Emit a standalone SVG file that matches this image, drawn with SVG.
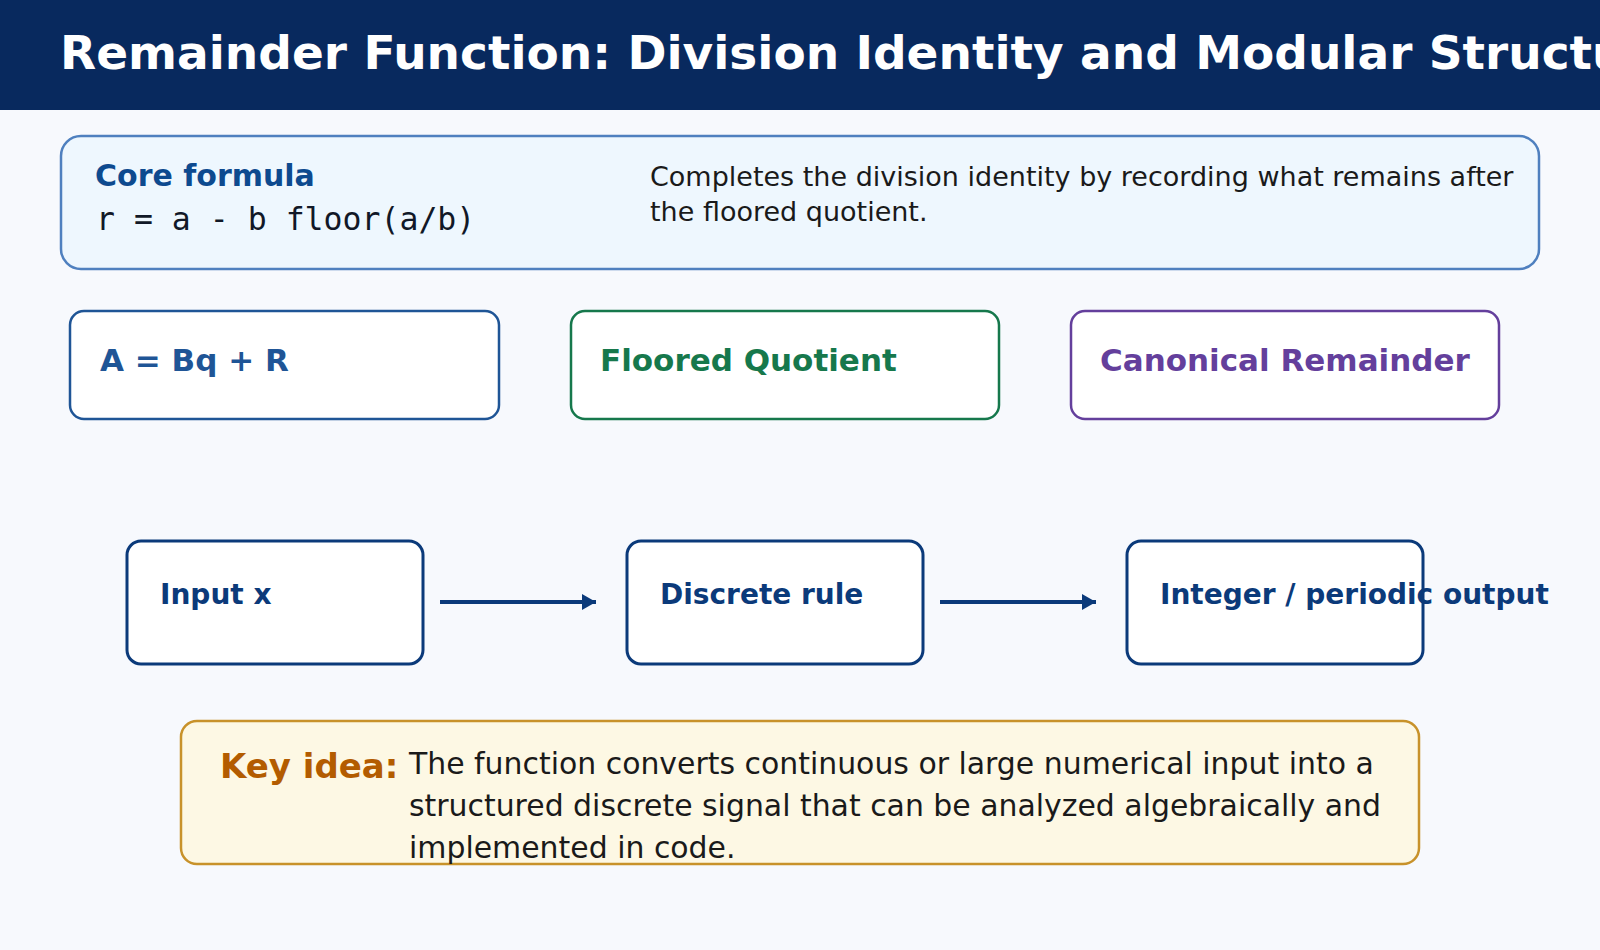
<svg xmlns="http://www.w3.org/2000/svg" width="1600" height="950" viewBox="0 0 1600 950">
<defs>
<style>
.t{font-family:"DejaVu Sans",sans-serif}
.b{font-weight:bold}
.flow{fill:#fff;stroke:#0b3a7a;stroke-width:3}
.fl{font-family:"DejaVu Sans",sans-serif;font-weight:bold;font-size:28px;fill:#0b3a7a}
</style>
<marker id="ah" markerWidth="16" markerHeight="16" refX="14" refY="8" orient="auto" markerUnits="userSpaceOnUse"><path d="M0,0 L14,8 L0,16 Z" fill="#0b3a7a"/></marker>
</defs>
<rect width="1600" height="950" fill="#f7f9fd"/>
<g id="header"><rect width="1600" height="110" fill="#08295e"/>
<text x="60" y="69" class="t b" font-size="47" fill="#fff">Remainder Function: Division Identity and Modular Structure</text></g>
<g id="core"><rect x="61" y="136" width="1478" height="133" rx="20" fill="#eef7fe" stroke="#4f80bf" stroke-width="2.5"/>
<text x="95" y="186" class="t b" font-size="30" fill="#0d4a8f">Core formula</text>
<text x="96" y="230" font-family="DejaVu Sans Mono,monospace" font-size="31.5" fill="#111827">r = a - b floor(a/b)</text>
<text x="650" y="186" class="t" font-size="27" fill="#1a1a1a">Completes the division identity by recording what remains after</text>
<text x="650" y="221" class="t" font-size="27" fill="#1a1a1a">the floored quotient.</text></g>
<g id="n1"><rect x="70" y="311" width="429" height="108" rx="14" fill="#fff" stroke="#1f5596" stroke-width="2.5"/><text x="100" y="371" class="t b" font-size="31" fill="#1f5596">A = Bq + R</text></g>
<g id="n2"><rect x="571" y="311" width="428" height="108" rx="14" fill="#fff" stroke="#16784c" stroke-width="2.5"/><text x="600" y="371" class="t b" font-size="31" fill="#16784c">Floored Quotient</text></g>
<g id="n3"><rect x="1071" y="311" width="428" height="108" rx="14" fill="#fff" stroke="#643f9c" stroke-width="2.5"/><text x="1100" y="371" class="t b" font-size="31" fill="#643f9c">Canonical Remainder</text></g>
<g id="f1"><rect x="127" y="541" width="296" height="123" rx="14" class="flow"/><text x="160" y="604" class="fl">Input x</text></g>
<g id="f2"><rect x="627" y="541" width="296" height="123" rx="14" class="flow"/><text x="660" y="604" class="fl">Discrete rule</text></g>
<g id="f3"><rect x="1127" y="541" width="296" height="123" rx="14" class="flow"/><text x="1160" y="604" class="fl">Integer / periodic output</text></g>
<g id="connectors" stroke="#0b3a7a" stroke-width="4">
<line x1="440" y1="602" x2="596" y2="602" marker-end="url(#ah)"/>
<line x1="940" y1="602" x2="1096" y2="602" marker-end="url(#ah)"/></g>
<g id="key"><rect x="181" y="721" width="1238" height="143" rx="16" fill="#fdf8e4" stroke="#c8922a" stroke-width="2.5"/>
<text x="220" y="778" class="t b" font-size="34" fill="#b35c00">Key idea:</text>
<text class="t" font-size="29.9" fill="#1a1a1a"><tspan x="409" y="774">The function converts continuous or large numerical input into a</tspan><tspan x="409" y="816">structured discrete signal that can be analyzed algebraically and</tspan><tspan x="409" y="858">implemented in code.</tspan></text></g>
</svg>
